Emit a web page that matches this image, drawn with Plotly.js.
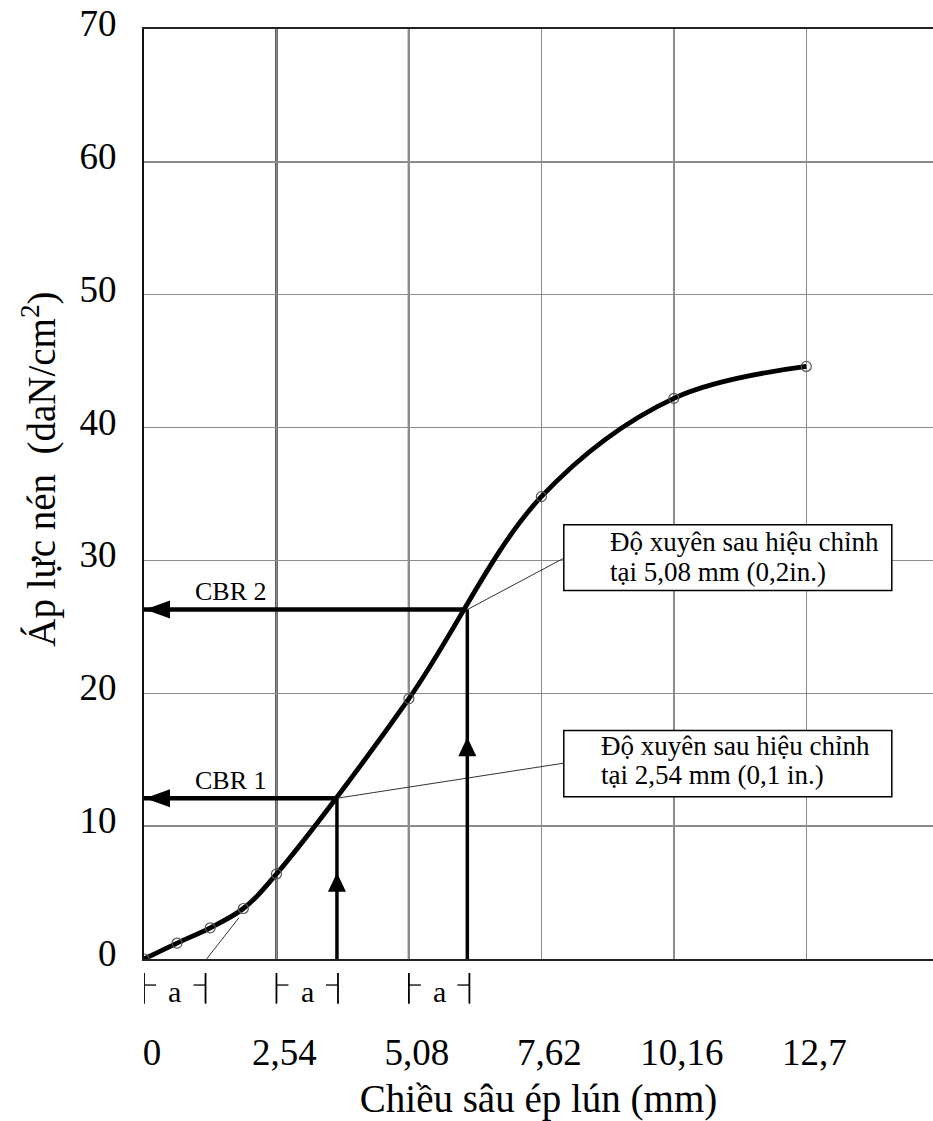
<!DOCTYPE html>
<html><head><meta charset="utf-8">
<script src="https://cdn.plot.ly/plotly-3.0.1.min.js"></script>
<style>html,body{margin:0;padding:0;background:#fff}</style>
</head><body><div id="chart" style="width:933px;height:1121px"></div>
<script>
const depth = [0, 0.635, 1.27, 1.905, 2.54, 5.08, 7.62, 10.16, 12.7];
const pressure = [0, 1.2, 2.35, 3.8, 6.4, 19.6, 34.8, 42.2, 44.6];
const xTickVals = [0, 2.54, 5.08, 7.62, 10.16, 12.7];
const xTickText = ['0', '2,54', '5,08', '7,62', '10,16', '12,7'];
const yTickVals = [0, 10, 20, 30, 40, 50, 60, 70];
const darkGridX = [2.54, 5.08];
const cbrLabels = ['CBR 1', 'CBR 2'];
const cbrX = [3.70, 6.20];
const cbrY = [12.1, 26.3];
const upArrowTipY = [6.5, 16.7];
const aStart = [0, 2.54, 5.08];
const aEnd = [1.18, 3.72, 6.24];
const tangentX = [1.2, 1.82];
const tangentY = [0, 3.1];
const noteLine1 = ['Độ xuyên sau hiệu chỉnh', 'Độ xuyên sau hiệu chỉnh'];
const noteLine2 = ['tại 2,54 mm (0,1 in.)', 'tại 5,08 mm (0,2in.)'];
const xTitle = 'Chiều sâu ép lún (mm)';
const yTitle = 'Áp lực nén  (daN/cm<sup>2</sup>)';

const FONT = 'Liberation Serif, Times New Roman, serif';
// note boxes (layout geometry)
const boxes = [
  {x0: 8.05, x1: 14.34, y0: 12.22, y1: 17.19, tx: [8.72, 8.72], ty: [16.0, 13.86], leadY: 14.74},
  {x0: 8.05, x1: 14.34, y0: 27.73, y1: 32.68, tx: [8.9, 8.9], ty: [31.35, 29.15], leadY: 30.17}
];

const traces = [
  {x: depth, y: pressure, mode: 'lines', line: {shape: 'spline', smoothing: 1, color: '#000', width: 4.8},
   hoverinfo: 'skip'},
  {x: tangentX, y: tangentY, mode: 'lines', line: {color: '#333', width: 1}, hoverinfo: 'skip'},
  {x: depth, y: pressure, mode: 'markers',
   marker: {symbol: 'circle-open', size: 10, color: '#555', line: {width: 1.2, color: '#555'}}}
];

const shapes = [];
const annotations = [];

darkGridX.forEach(v => shapes.push({type: 'line', xref: 'x', yref: 'paper', x0: v, x1: v, y0: 0, y1: 1,
  line: {color: '#000', width: 2.2}, layer: 'between'}));

for (let i = 0; i < cbrX.length; i++) {
  shapes.push({type: 'line', xref: 'x', yref: 'y', x0: 0, x1: cbrX[i], y0: cbrY[i], y1: cbrY[i],
    line: {color: '#000', width: 4.5}});
  shapes.push({type: 'line', xref: 'x', yref: 'y', x0: cbrX[i], x1: cbrX[i], y0: 0, y1: cbrY[i],
    line: {color: '#000', width: 3.5}});
  shapes.push({type: 'path', xref: 'x', yref: 'y', xsizemode: 'pixel', ysizemode: 'pixel',
    xanchor: 0, yanchor: cbrY[i], path: 'M1,0 L26,9 L26,-9 Z', fillcolor: '#000', line: {width: 0}});
  shapes.push({type: 'path', xref: 'x', yref: 'y', xsizemode: 'pixel', ysizemode: 'pixel',
    xanchor: cbrX[i], yanchor: upArrowTipY[i], path: 'M0,0 L-9,-19 L9,-19 Z', fillcolor: '#000', line: {width: 0}});
  const b = boxes[i];
  shapes.push({type: 'line', xref: 'x', yref: 'y', x0: cbrX[i], y0: cbrY[i], x1: b.x0, y1: b.leadY,
    line: {color: '#333', width: 1}});
  annotations.push({x: 1.67, y: cbrY[i], xref: 'x', yref: 'y', yshift: 18, text: cbrLabels[i],
    showarrow: false, font: {family: FONT, size: 26, color: '#000'}});
}

boxes.forEach((b, i) => {
  shapes.push({type: 'rect', xref: 'x', yref: 'y', x0: b.x0, x1: b.x1, y0: b.y0, y1: b.y1,
    fillcolor: '#fff', line: {color: '#000', width: 1.5}});
  annotations.push({x: b.tx[0], y: b.ty[0], xref: 'x', yref: 'y', xanchor: 'left', yanchor: 'middle',
    text: noteLine1[i], showarrow: false, font: {family: FONT, size: 27, color: '#000'}});
  annotations.push({x: b.tx[1], y: b.ty[1], xref: 'x', yref: 'y', xanchor: 'left', yanchor: 'middle',
    text: noteLine2[i], showarrow: false, font: {family: FONT, size: 27, color: '#000'}});
});

for (let i = 0; i < aStart.length; i++) {
  [aStart[i], aEnd[i]].forEach((v, k) => {
    shapes.push({type: 'line', xref: 'x', yref: 'paper', x0: v, x1: v, y0: -0.015, y1: -0.048,
      line: {color: '#000', width: 1.8}});
    shapes.push({type: 'line', xref: 'x', yref: 'paper', xsizemode: 'pixel', xanchor: v,
      x0: 0, x1: k === 0 ? 12 : -12, y0: -0.028, y1: -0.028, line: {color: '#000', width: 1.3}});
  });
  annotations.push({x: (aStart[i] + aEnd[i]) / 2, y: -0.035, xref: 'x', yref: 'paper',
    xanchor: 'center', yanchor: 'middle', text: 'a',
    showarrow: false, font: {family: FONT, size: 30, color: '#000'}});
}

// y-axis title (placed as rotated text, slightly above the plot centre as in the source)
annotations.push({xref: 'paper', yref: 'paper', x: -0.132, y: 0.527, xanchor: 'center', yanchor: 'middle',
  textangle: -90, text: yTitle, showarrow: false, font: {family: FONT, size: 39, color: '#000'}});

const layout = {
  width: 933, height: 1121,
  margin: {l: 144, r: 0, t: 29, b: 162},
  paper_bgcolor: '#fff', plot_bgcolor: '#fff',
  showlegend: false,
  font: {family: FONT, color: '#000', size: 37},
  xaxis: {range: [0, 15.13], tickvals: xTickVals, ticktext: xTickText, showgrid: true,
    gridcolor: '#8c8c8c', gridwidth: 1.5, zeroline: false, showline: true, linecolor: '#222',
    linewidth: 2, mirror: true, ticks: '', ticklabelstandoff: 60, ticklabelshift: 8,
    tickfont: {family: FONT, size: 37, color: '#000'},
    title: {text: xTitle, font: {family: FONT, size: 39, color: '#000'}, standoff: 12},
    fixedrange: true},
  yaxis: {range: [0, 70], tickvals: yTickVals, showgrid: true, gridcolor: '#8c8c8c', gridwidth: 1.5,
    zeroline: false, showline: true, linecolor: '#111', linewidth: 2, ticks: '', ticklabelstandoff: 18,
    ticklabelshift: -6,
    tickfont: {family: FONT, size: 37, color: '#000'},
    fixedrange: true},
  shapes: shapes,
  annotations: annotations
};

Plotly.newPlot('chart', traces, layout, {displayModeBar: false, staticPlot: true});
</script>
</body></html>
